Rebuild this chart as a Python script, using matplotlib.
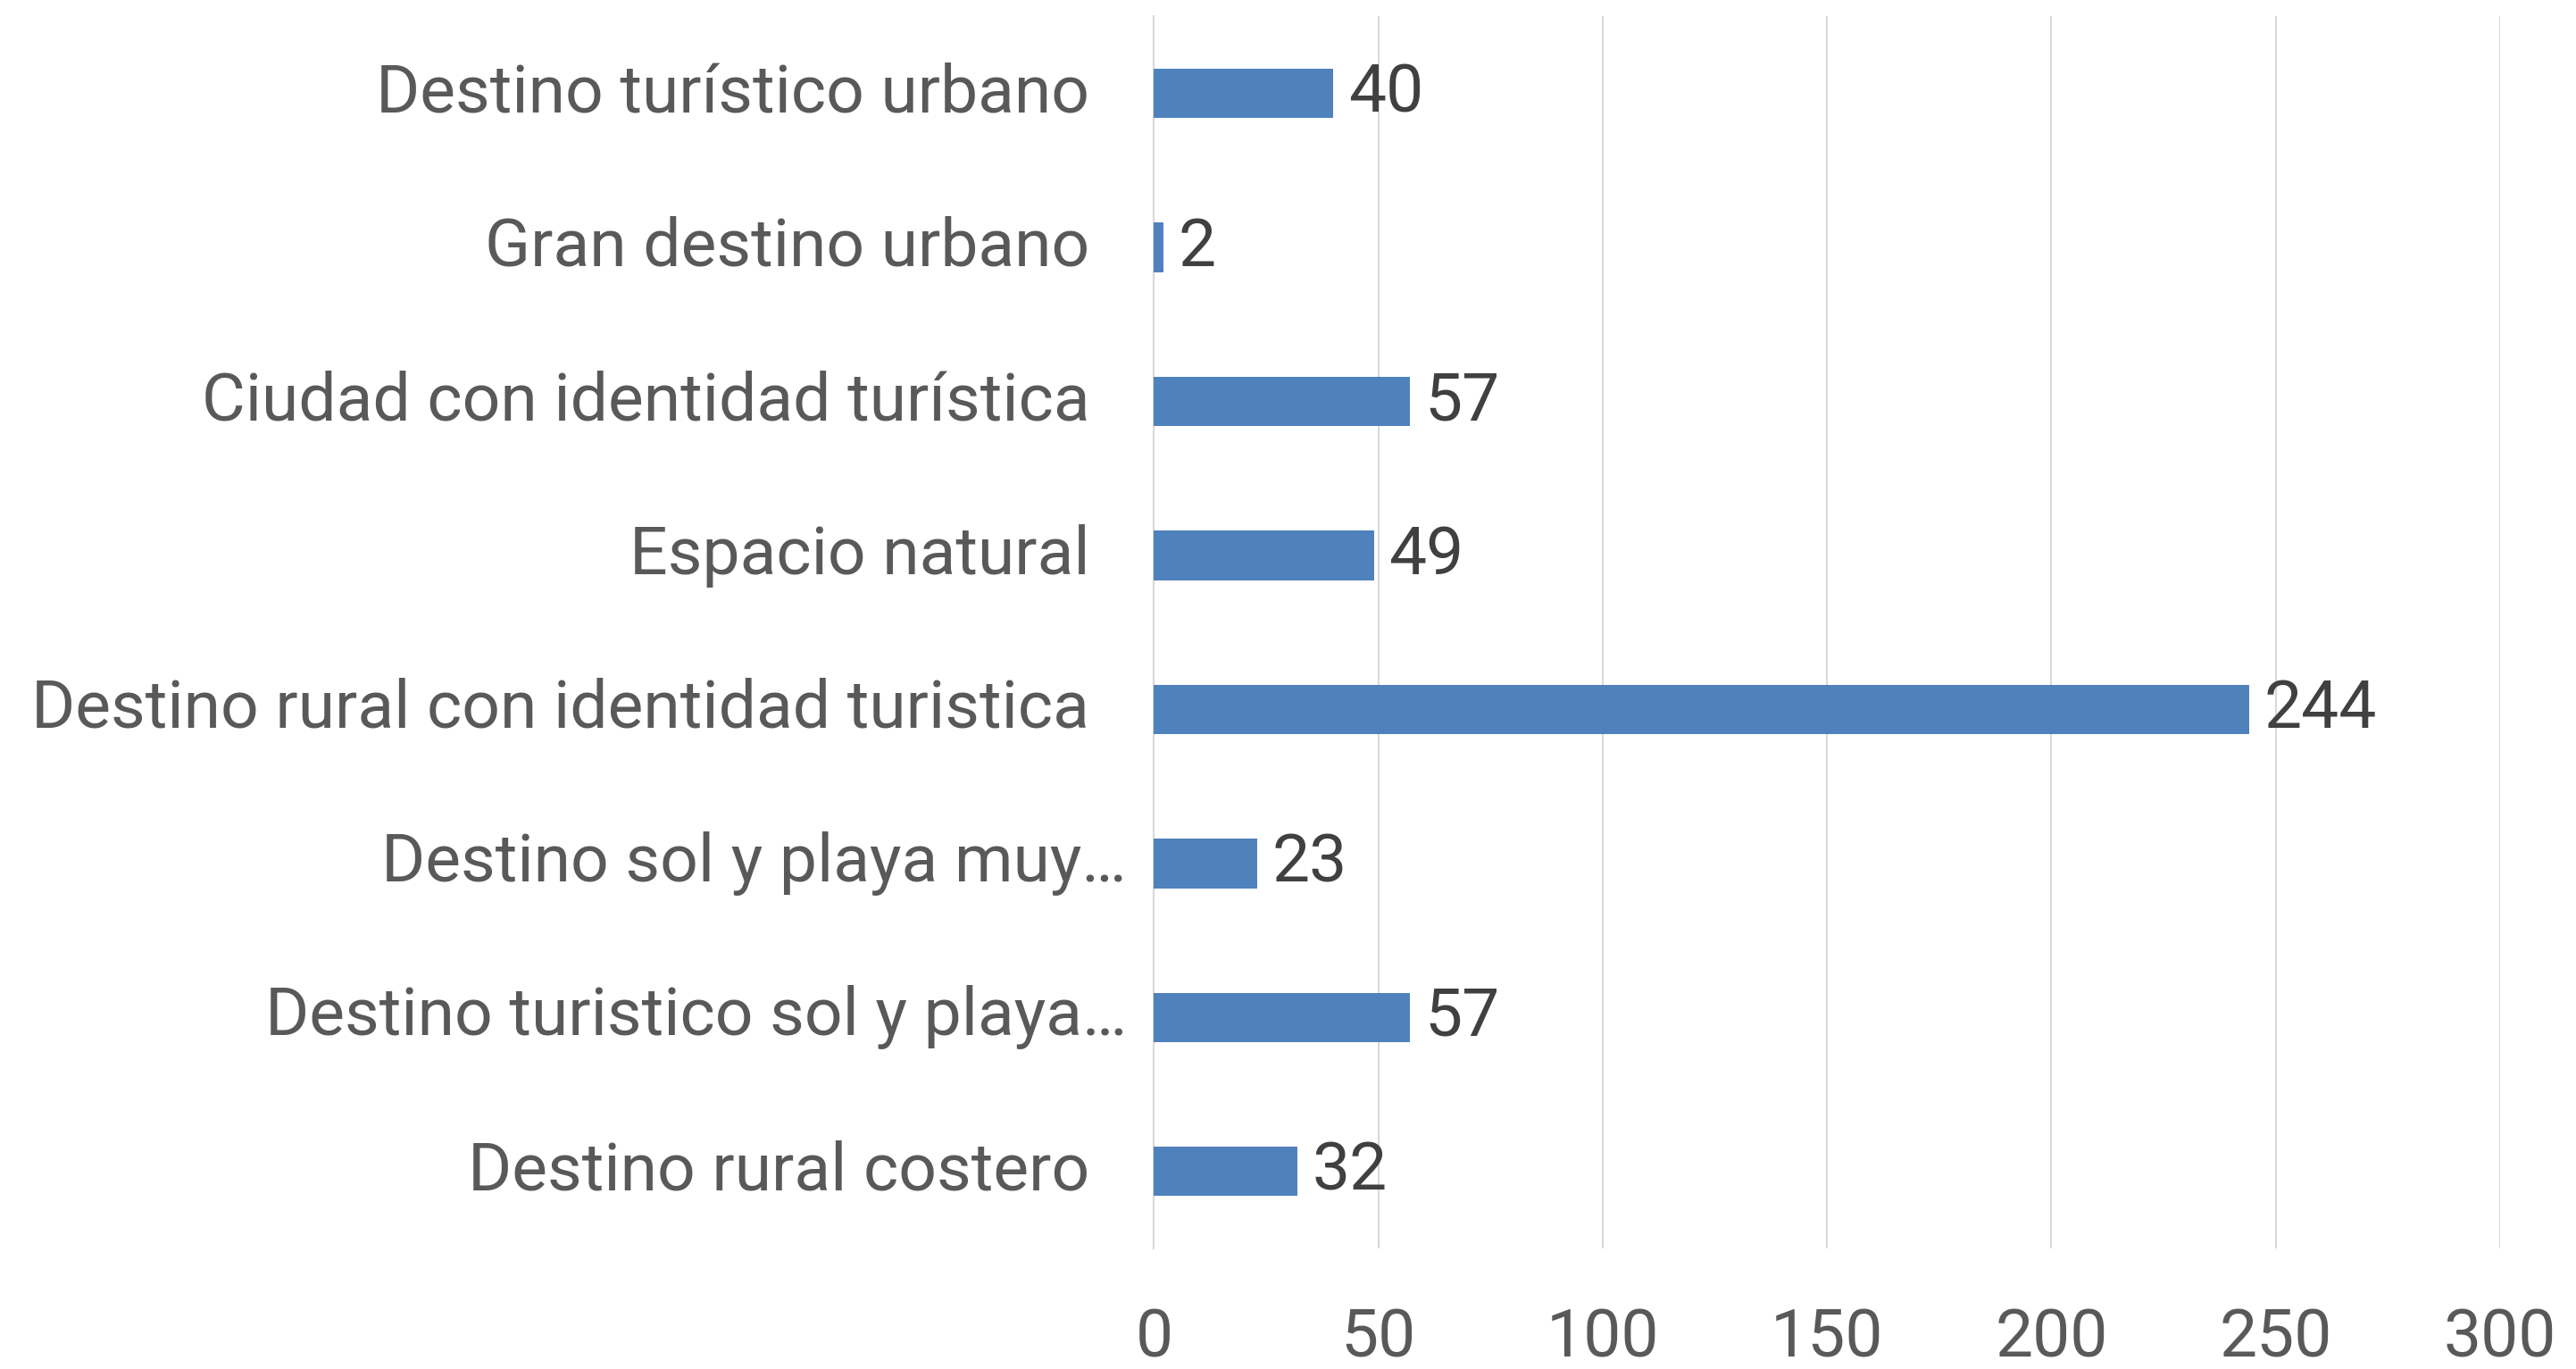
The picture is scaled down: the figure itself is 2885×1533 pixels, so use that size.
import matplotlib.pyplot as plt
from matplotlib.transforms import blended_transform_factory, ScaledTranslation

# categories, top to bottom
categories = [
    'Destino turístico urbano',
    'Gran destino urbano',
    'Ciudad con identidad turística',
    'Espacio natural',
    'Destino rural con identidad turistica',
    'Destino sol y playa muy…',
    'Destino turistico sol y playa…',
    'Destino rural costero',
]
values = [40, 2, 57, 49, 244, 23, 57, 32]
x_ticks = [0, 50, 100, 150, 200, 250, 300]

bar_color = '#4F81BD'
grid_color = '#D9D9D9'
label_color = '#595959'
value_color = '#404040'

plt.rcParams['font.family'] = ['Roboto', 'DejaVu Sans']

fig = plt.figure(figsize=(28.85, 15.33), dpi=100)
ax = fig.add_axes([0.448, 0.088, 0.5225, 0.900])

ypos = list(range(len(categories)))
ax.barh(ypos, values, height=0.32, color=bar_color, zorder=3)

ax.set_xlim(0, 300)
ax.set_ylim(len(categories) - 0.5, -0.5)
ax.set_xticks(x_ticks)
ax.set_xticklabels([str(t) for t in x_ticks], fontsize=54, color=label_color)
ax.tick_params(axis='x', length=0, pad=47)
ax.set_yticks([])

ax.grid(axis='x', color=grid_color, linewidth=1.5, zorder=0)
for side in ['top', 'right', 'bottom']:
    ax.spines[side].set_visible(False)
ax.spines['left'].set_color(grid_color)
ax.spines['left'].set_linewidth(1.5)

# category labels, truncated ones sit a bit further right like Excel does
trans = blended_transform_factory(ax.transAxes, ax.transData)
for y, name in zip(ypos, categories):
    off = -22 if name.endswith('…') else -52
    t = trans + ScaledTranslation(off / 72, 0, fig.dpi_scale_trans)
    ax.text(0, y, name, transform=t, ha='right', va='center',
            fontsize=54, color=label_color)

# value labels
for y, v in zip(ypos, values):
    ax.annotate(str(v), xy=(v, y), xytext=(12, 0), textcoords='offset points',
                ha='left', va='center', fontsize=54, color=value_color)

fig.savefig('out.png', dpi=100)
